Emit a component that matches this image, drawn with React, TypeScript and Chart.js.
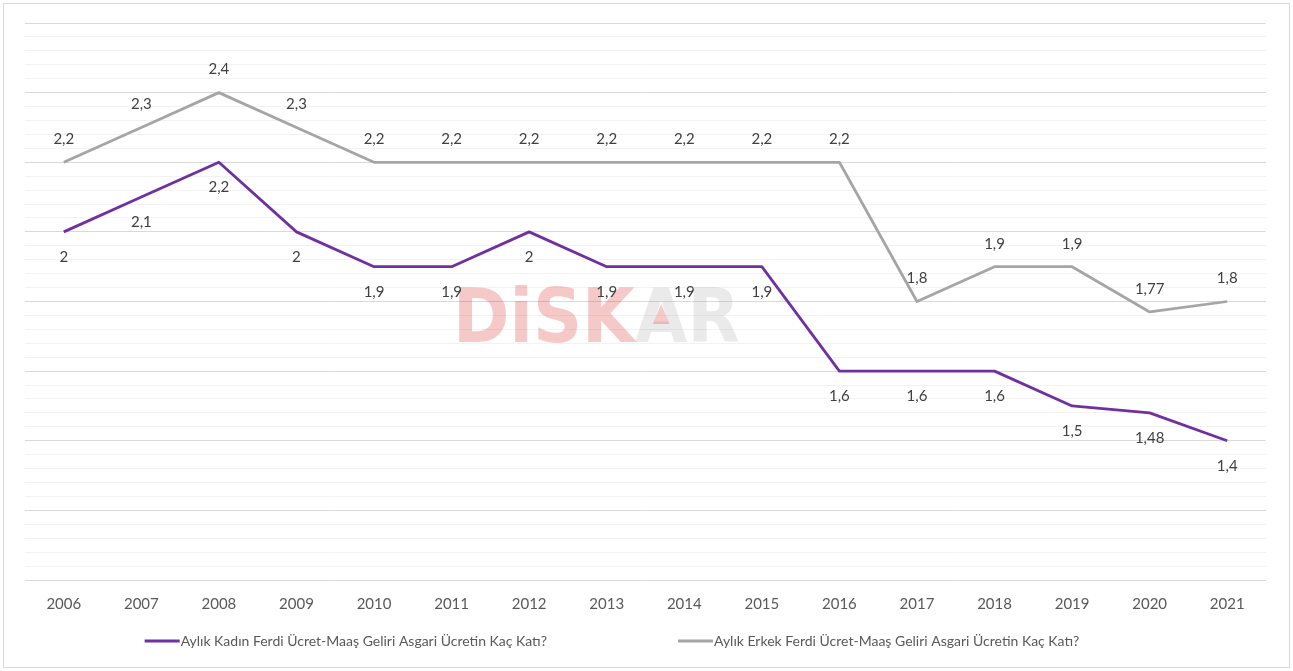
import React, { useEffect, useRef } from "react";
import { Chart, registerables } from "chart.js";

Chart.register(...registerables);

const years = ["2006","2007","2008","2009","2010","2011","2012","2013","2014","2015","2016","2017","2018","2019","2020","2021"];
const womenValues = [2.0, 2.1, 2.2, 2.0, 1.9, 1.9, 2.0, 1.9, 1.9, 1.9, 1.6, 1.6, 1.6, 1.5, 1.48, 1.4];
const menValues = [2.2, 2.3, 2.4, 2.3, 2.2, 2.2, 2.2, 2.2, 2.2, 2.2, 2.2, 1.8, 1.9, 1.9, 1.77, 1.8];
const womenLabel = "Aylık Kadın Ferdi Ücret-Maaş Geliri Asgari Ücretin Kaç Katı?";
const menLabel = "Aylık Erkek Ferdi Ücret-Maaş Geliri Asgari Ücretin Kaç Katı?";

const PURPLE = "#7030A0";
const GRAY = "#A5A5A5";
const FONT = "Lato, 'Open Sans', sans-serif";

const fmt = (v: number) => String(v).replace(".", ",");

const bgPlugin = {
  id: "bgBorder",
  beforeDraw(chart: any) {
    const ctx = chart.ctx;
    ctx.save();
    ctx.fillStyle = "#ffffff";
    ctx.fillRect(0, 0, chart.width, chart.height);
    ctx.strokeStyle = "#D9D9D9";
    ctx.lineWidth = 1;
    ctx.strokeRect(3.5, 3.5, chart.width - 7, chart.height - 7);
    ctx.restore();
  },
};

const watermarkPlugin = {
  id: "watermark",
  beforeDatasetsDraw(chart: any) {
    const ctx = chart.ctx;
    ctx.save();
    ctx.font = "bold 74px 'DejaVu Sans', sans-serif";
    ctx.textBaseline = "alphabetic";
    ctx.textAlign = "left";
    const p1 = "DiSK";
    const p2 = "AR";
    const w1 = ctx.measureText(p1).width;
    const w2 = ctx.measureText(p2).width;
    const targetW = 287;
    const sx = targetW / (w1 + w2);
    const x0 = 453;
    const base = 342;
    ctx.translate(x0, base);
    ctx.scale(sx, 1);
    ctx.fillStyle = "rgba(220,40,40,0.25)";
    ctx.fillText(p1, 0, 0);
    ctx.fillStyle = "rgba(150,150,150,0.2)";
    ctx.fillText(p2, w1, 0);
    const wA = ctx.measureText("A").width;
    ctx.fillStyle = "rgba(220,40,40,0.25)";
    ctx.beginPath();
    ctx.moveTo(w1 + wA / 2, -38);
    ctx.lineTo(w1 + wA / 2 - 9, -18);
    ctx.lineTo(w1 + wA / 2 + 9, -18);
    ctx.closePath();
    ctx.fill();
    ctx.restore();
  },
};

const labelPlugin = {
  id: "dataLabels",
  afterDatasetsDraw(chart: any) {
    const ctx = chart.ctx;
    ctx.save();
    ctx.font = "15px " + FONT;
    ctx.fillStyle = "#404040";
    ctx.textAlign = "center";
    ctx.textBaseline = "middle";
    chart.data.datasets.forEach((ds: any, di: number) => {
      const meta = chart.getDatasetMeta(di);
      const off = ds.labelOffset;
      meta.data.forEach((pt: any, i: number) => {
        ctx.fillText(fmt(ds.data[i]), pt.x, pt.y + off);
      });
    });
    ctx.restore();
  },
};

const legendPlugin = {
  id: "customLegend",
  afterDraw(chart: any) {
    const ctx = chart.ctx;
    ctx.save();
    ctx.font = "14px " + FONT;
    ctx.textBaseline = "middle";
    ctx.textAlign = "left";
    const items = chart.data.datasets.map((ds: any) => ({
      text: ds.label,
      color: ds.borderColor,
      w: 36 + ctx.measureText(ds.label).width,
    }));
    const gap = 131;
    const total = items.reduce((s: number, it: any) => s + it.w, 0) + gap * (items.length - 1);
    let x = 612 - total / 2;
    const y = 641;
    items.forEach((it: any) => {
      ctx.strokeStyle = it.color;
      ctx.lineWidth = 3;
      ctx.beginPath();
      ctx.moveTo(x, y);
      ctx.lineTo(x + 35, y);
      ctx.stroke();
      ctx.fillStyle = "#595959";
      ctx.fillText(it.text, x + 36, y);
      x += it.w + gap;
    });
    ctx.restore();
  },
};

export default function App() {
  const ref = useRef<HTMLCanvasElement | null>(null);
  useEffect(() => {
    if (!ref.current) return;
    const chart = new Chart(ref.current, {
      type: "line",
      data: {
        labels: years,
        datasets: [
          {
            label: womenLabel,
            data: womenValues,
            borderColor: PURPLE,
            backgroundColor: PURPLE,
            borderWidth: 2.75,
            pointRadius: 0,
            tension: 0,
            borderJoinStyle: "round",
            labelOffset: 25,
          } as any,
          {
            label: menLabel,
            data: menValues,
            borderColor: GRAY,
            backgroundColor: GRAY,
            borderWidth: 2.75,
            pointRadius: 0,
            tension: 0,
            borderJoinStyle: "round",
            labelOffset: -23,
          } as any,
        ],
      },
      options: {
        animation: false,
        responsive: false,
        maintainAspectRatio: false,
        layout: { padding: { left: 25, right: 27, top: 23, bottom: 43 } },
        plugins: {
          legend: { display: false },
          tooltip: { enabled: false },
        },
        scales: {
          x: {
            offset: true,
            grid: { display: false, drawTicks: false },
            border: { display: false },
            ticks: {
              padding: 15,
              color: "#595959",
              font: { size: 15, family: FONT },
              maxRotation: 0,
              autoSkip: false,
            },
          },
          y: {
            min: 1,
            max: 2.6,
            ticks: { display: false, stepSize: 0.04 },
            border: { display: false },
            grid: {
              drawTicks: false,
              color: (c: any) => (c.index % 5 === 0 ? "#D9D9D9" : "#F2F2F2"),
              lineWidth: 1,
            },
          },
        },
      },
      plugins: [bgPlugin, watermarkPlugin, labelPlugin, legendPlugin],
    });
    return () => chart.destroy();
  }, []);
  return (
    <div style={{ position: "fixed", left: 0, top: 0, width: 1293, height: 671 }}>
      <canvas ref={ref} width={1293} height={671} style={{ display: "block" }} />
    </div>
  );
}
